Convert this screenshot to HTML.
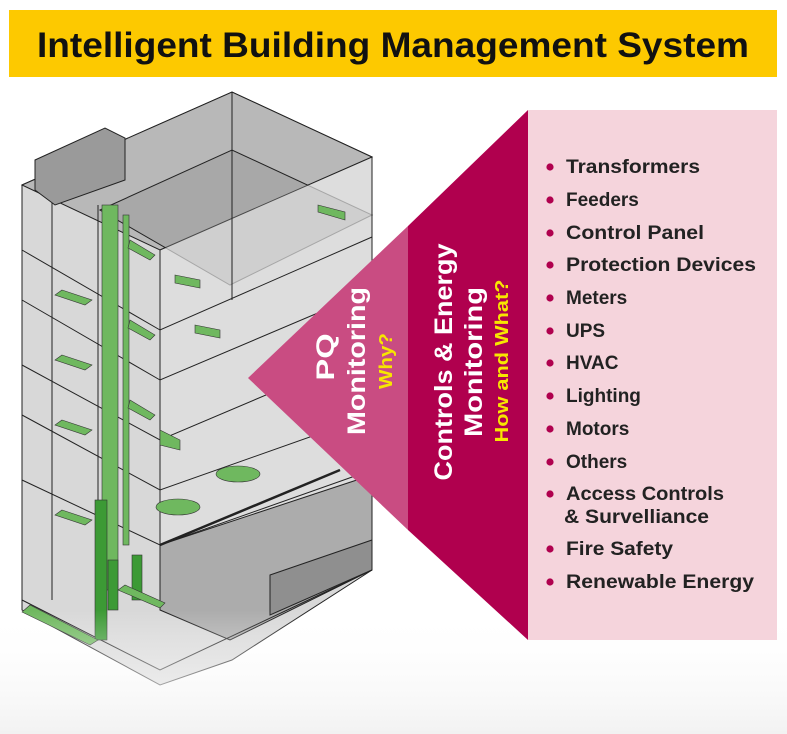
<!DOCTYPE html>
<html><head><meta charset="utf-8"><style>
html,body{margin:0;padding:0;background:#fff;}
svg{display:block;}
</style></head><body>
<svg width="787" height="734" viewBox="0 0 787 734" xmlns="http://www.w3.org/2000/svg" font-family="Liberation Sans, sans-serif">
<defs>
<linearGradient id="fade" x1="0" y1="0" x2="0" y2="1">
<stop offset="0" stop-color="#fff" stop-opacity="0"/>
<stop offset="1" stop-color="#f2f2f2" stop-opacity="1"/>
</linearGradient>
</defs>
<rect x="9" y="10" width="768" height="67" fill="#fdc900"/>
<text x="393" y="57" text-anchor="middle" font-size="35" font-weight="bold" fill="#111" textLength="712" lengthAdjust="spacingAndGlyphs">Intelligent Building Management System</text>

<!-- building -->
<g stroke="#222" stroke-width="1" fill="none">
<polygon points="22,185 232,92 372,157 372,570 232,660 160,685 22,610" fill="#d8d8d8"/>
<polygon points="22,185 232,92 372,157 160,250" fill="#b8b8b8"/>
<polygon points="100,210 232,150 372,215 230,285" fill="#a8a8a8"/>
<polygon points="160,250 372,157 372,545 160,545" fill="#e0e0e0" opacity="0.7"/>
<polygon points="160,545 372,475 372,570 230,640 160,610" fill="#acacac"/>
<polygon points="270,575 372,540 372,570 270,615" fill="#8f8f8f"/>
<line x1="22" y1="185" x2="22" y2="610"/>
<line x1="232" y1="92" x2="232" y2="300"/>
<line x1="372" y1="157" x2="372" y2="570"/>
<line x1="160" y1="250" x2="160" y2="545"/>
<line x1="52" y1="185" x2="52" y2="600"/>
<line x1="98" y1="205" x2="98" y2="620"/>
<polyline points="22,250 160,330 372,237"/>
<polyline points="22,300 160,380 372,290"/>
<polyline points="22,365 160,440 372,350"/>
<polyline points="22,415 160,490 372,415"/>
<polyline points="22,480 160,545 372,470"/>
<polyline points="22,600 160,670 372,570"/>
<polygon points="35,160 105,128 125,138 125,180 55,205 35,190" fill="#9a9a9a"/>
<line x1="160" y1="545" x2="340" y2="470" stroke-width="2.5"/>
</g>
<g fill="#6fb85f" stroke="#333" stroke-width="0.6">
<rect x="102" y="205" width="16" height="385"/>
<rect x="123" y="215" width="6" height="330"/>
<rect x="95" y="500" width="12" height="140" fill="#3c9a35"/>
<rect x="108" y="560" width="10" height="50" fill="#3c9a35"/>
<rect x="132" y="555" width="10" height="45" fill="#3c9a35"/>
<polygon points="22,612 90,645 98,640 30,605"/>
<polygon points="118,590 160,608 165,603 125,585"/>
<ellipse cx="178" cy="507" rx="22" ry="8"/>
<ellipse cx="238" cy="474" rx="22" ry="8"/>
<polygon points="62,290 92,300 85,305 55,295"/>
<polygon points="62,355 92,365 85,370 55,360"/>
<polygon points="62,420 92,430 85,435 55,425"/>
<polygon points="62,510 92,520 85,525 55,515"/>
<polygon points="130,240 155,255 150,260 128,248"/>
<polygon points="130,320 155,335 150,340 128,328"/>
<polygon points="130,400 155,415 150,420 128,408"/>
<polygon points="318,205 345,212 345,220 318,212"/>
<polygon points="175,275 200,280 200,288 175,283"/>
<polygon points="195,325 220,330 220,338 195,333"/>
<polygon points="160,430 180,440 180,450 160,445"/>
</g>
<rect x="0" y="610" width="787" height="124" fill="url(#fade)"/>

<!-- panel -->
<rect x="528" y="110" width="249" height="530" fill="#f5d4dc"/>
<polygon points="248,378 408,226 408,530" fill="#c94c82"/>
<polygon points="408,226 528,110 528,640 408,530" fill="#b0004e"/>

<g font-weight="bold" text-anchor="middle">
<text transform="translate(334,357) rotate(-90)" font-size="25" fill="#fff" textLength="47" lengthAdjust="spacingAndGlyphs">PQ</text>
<text transform="translate(365,361) rotate(-90)" font-size="25" fill="#fff" textLength="148" lengthAdjust="spacingAndGlyphs">Monitoring</text>
<text transform="translate(392,361) rotate(-90)" font-size="18" fill="#f7e600" textLength="56" lengthAdjust="spacingAndGlyphs">Why?</text>
<text transform="translate(452,362) rotate(-90)" font-size="25" fill="#fff" textLength="237" lengthAdjust="spacingAndGlyphs">Controls &amp; Energy</text>
<text transform="translate(482,362) rotate(-90)" font-size="25" fill="#fff" textLength="150" lengthAdjust="spacingAndGlyphs">Monitoring</text>
<text transform="translate(508,361) rotate(-90)" font-size="18" fill="#f7e600" textLength="163" lengthAdjust="spacingAndGlyphs">How and What?</text>
</g>

<g font-size="19" font-weight="bold" fill="#222">
<g fill="#b0004e">
<circle cx="550" cy="167" r="3.6"/><circle cx="550" cy="200" r="3.6"/><circle cx="550" cy="233" r="3.6"/><circle cx="550" cy="265" r="3.6"/><circle cx="550" cy="298" r="3.6"/><circle cx="550" cy="331" r="3.6"/><circle cx="550" cy="363" r="3.6"/><circle cx="550" cy="396" r="3.6"/><circle cx="550" cy="429" r="3.6"/><circle cx="550" cy="462" r="3.6"/><circle cx="550" cy="494" r="3.6"/><circle cx="550" cy="549" r="3.6"/><circle cx="550" cy="582" r="3.6"/>
</g>
<text x="566" y="173" textLength="134" lengthAdjust="spacingAndGlyphs">Transformers</text>
<text x="566" y="206">Feeders</text>
<text x="566" y="239" textLength="138" lengthAdjust="spacingAndGlyphs">Control Panel</text>
<text x="566" y="271" textLength="190" lengthAdjust="spacingAndGlyphs">Protection Devices</text>
<text x="566" y="304">Meters</text>
<text x="566" y="337">UPS</text>
<text x="566" y="369">HVAC</text>
<text x="566" y="402">Lighting</text>
<text x="566" y="435">Motors</text>
<text x="566" y="468">Others</text>
<text x="566" y="500" textLength="158" lengthAdjust="spacingAndGlyphs">Access Controls</text>
<text x="564" y="523" textLength="145" lengthAdjust="spacingAndGlyphs">&amp; Survelliance</text>
<text x="566" y="555" textLength="107" lengthAdjust="spacingAndGlyphs">Fire Safety</text>
<text x="566" y="588" textLength="188" lengthAdjust="spacingAndGlyphs">Renewable Energy</text>
</g>
</svg>
</body></html>
